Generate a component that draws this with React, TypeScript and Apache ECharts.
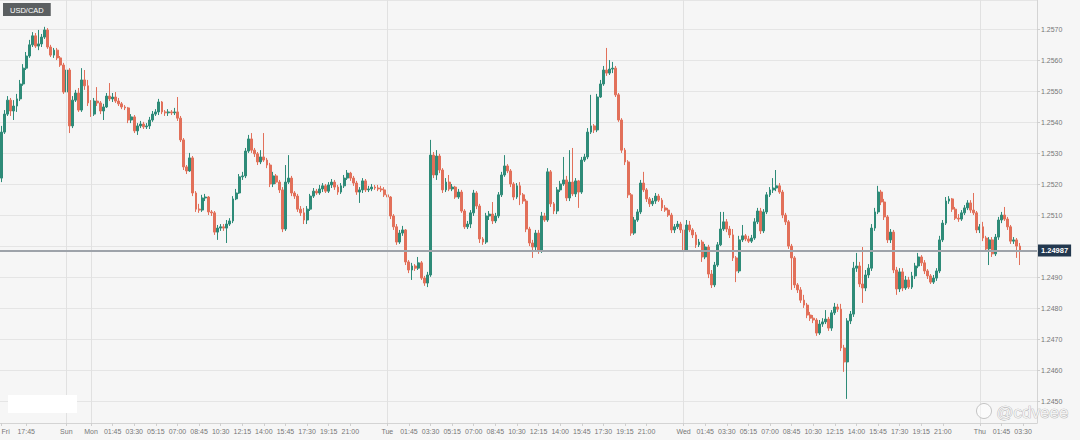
import React, { useEffect, useRef } from "react";
import * as echarts from "echarts";

// ---------- data (USD/CAD, 15-minute candles) ----------
const firstOpen = 1.2522;

const friClose = [1.25368, 1.25426, 1.25471, 1.25436, 1.25452, 1.25475, 1.25523, 1.25574, 1.25613, 1.25649, 1.25678, 1.25645, 1.25652, 1.25674, 1.25697, 1.25642, 1.25616, 1.25632, 1.25607, 1.25584, 1.25497];
const friHigh = [1.25388, 1.25439, 1.25484, 1.25478, 1.25471, 1.25491, 1.25536, 1.25587, 1.25626, 1.25665, 1.2569, 1.25687, 1.25697, 1.25684, 1.25707, 1.25703, 1.25649, 1.25639, 1.25639, 1.25613, 1.25591];
const friLow = [1.25207, 1.25362, 1.2542, 1.2542, 1.25407, 1.25433, 1.25468, 1.25517, 1.25568, 1.25607, 1.25642, 1.25639, 1.25632, 1.25642, 1.25668, 1.25636, 1.2561, 1.25607, 1.256, 1.25578, 1.25491];

const sunClose = [1.25568, 1.25388, 1.25471, 1.25494, 1.25439, 1.25536, 1.25517, 1.25462];
const sunHigh = [1.25581, 1.25574, 1.25484, 1.25504, 1.2551, 1.25574, 1.25568, 1.25536];
const sunLow = [1.25491, 1.25365, 1.25381, 1.25465, 1.25433, 1.25433, 1.25504, 1.25452];

const monClose = [1.25426, 1.25468, 1.25462, 1.25436, 1.25449, 1.25484, 1.25475, 1.25481, 1.25468, 1.25459, 1.25449, 1.25446, 1.25407, 1.25417, 1.25372, 1.25388, 1.25394, 1.25385, 1.25388, 1.25407, 1.25426, 1.25433, 1.25465, 1.25433, 1.2543, 1.25433, 1.2543, 1.25433, 1.25413, 1.25343, 1.25256, 1.25243, 1.25285, 1.25172, 1.2512, 1.25117, 1.25156, 1.25159, 1.25111, 1.25108, 1.25046, 1.25059, 1.25063, 1.25059, 1.25072, 1.25082, 1.25153, 1.25172, 1.25224, 1.25227, 1.25307, 1.25346, 1.2531, 1.25298, 1.25272, 1.25288, 1.25278, 1.25262, 1.25201, 1.25227, 1.25207, 1.25182, 1.25056, 1.25207, 1.2522, 1.25172, 1.25162, 1.2512, 1.25108, 1.25085, 1.2512, 1.25162, 1.25178, 1.25172, 1.25185, 1.25195, 1.25178, 1.25198, 1.25207, 1.25191, 1.25175, 1.25195, 1.2522, 1.25236, 1.2522, 1.25204, 1.25175, 1.25182, 1.25211, 1.25182, 1.25185, 1.25191, 1.25188, 1.25185, 1.25182, 1.25166];
const monHigh = [1.25471, 1.25478, 1.25513, 1.25468, 1.25459, 1.25494, 1.25526, 1.25494, 1.25497, 1.25478, 1.25465, 1.25455, 1.25449, 1.25426, 1.25423, 1.25397, 1.25404, 1.25401, 1.25397, 1.25417, 1.25436, 1.25442, 1.25475, 1.25468, 1.25439, 1.25442, 1.25439, 1.25446, 1.25481, 1.2542, 1.25349, 1.25262, 1.25301, 1.25291, 1.25178, 1.25137, 1.25166, 1.25169, 1.25162, 1.25117, 1.25114, 1.25069, 1.25072, 1.25072, 1.25085, 1.25091, 1.25162, 1.25185, 1.25233, 1.2524, 1.25317, 1.25359, 1.25365, 1.25317, 1.25304, 1.2531, 1.25365, 1.25285, 1.25269, 1.2524, 1.25233, 1.25214, 1.25191, 1.25262, 1.25294, 1.25227, 1.25178, 1.25169, 1.2513, 1.25124, 1.2513, 1.25169, 1.25188, 1.25185, 1.25198, 1.25204, 1.25201, 1.25207, 1.25217, 1.25214, 1.25198, 1.25204, 1.2523, 1.25246, 1.2524, 1.25227, 1.25211, 1.25191, 1.2522, 1.25217, 1.25195, 1.25201, 1.25198, 1.25198, 1.25195, 1.25191];
const monLow = [1.25417, 1.2542, 1.25452, 1.25426, 1.25407, 1.25446, 1.25468, 1.25465, 1.25462, 1.25452, 1.25442, 1.25439, 1.25397, 1.25397, 1.25365, 1.25359, 1.25381, 1.25378, 1.25378, 1.25378, 1.25401, 1.2542, 1.25423, 1.25426, 1.2542, 1.2542, 1.25423, 1.25423, 1.25404, 1.25336, 1.25246, 1.25233, 1.2524, 1.25162, 1.25111, 1.25108, 1.25111, 1.25146, 1.25101, 1.25098, 1.25037, 1.25021, 1.2505, 1.2505, 1.25011, 1.25066, 1.25075, 1.25149, 1.25169, 1.25214, 1.2522, 1.25301, 1.25301, 1.25288, 1.25262, 1.25265, 1.25272, 1.25252, 1.25191, 1.25191, 1.25201, 1.25172, 1.25046, 1.2505, 1.25201, 1.25162, 1.25153, 1.25111, 1.25098, 1.25072, 1.25072, 1.25114, 1.25156, 1.25166, 1.25166, 1.25175, 1.25172, 1.25172, 1.25188, 1.25182, 1.25166, 1.25169, 1.25188, 1.25214, 1.25211, 1.25195, 1.25166, 1.2514, 1.25172, 1.25175, 1.25175, 1.25178, 1.25182, 1.25178, 1.25175, 1.25159];

const tueClose = [1.25159, 1.25098, 1.25063, 1.25014, 1.25043, 1.25053, 1.2495, 1.24924, 1.24937, 1.2493, 1.24947, 1.24898, 1.24882, 1.24908, 1.25294, 1.2523, 1.25291, 1.25246, 1.25182, 1.25207, 1.25185, 1.25191, 1.25159, 1.25175, 1.25114, 1.25063, 1.25072, 1.25108, 1.25172, 1.2513, 1.25024, 1.25014, 1.25098, 1.25104, 1.25082, 1.25098, 1.25166, 1.2523, 1.25259, 1.25243, 1.25201, 1.25159, 1.25195, 1.25166, 1.25146, 1.25056, 1.25011, 1.24998, 1.25043, 1.24985, 1.25098, 1.25085, 1.2524, 1.25137, 1.25114, 1.25182, 1.25201, 1.25214, 1.25156, 1.25207, 1.25169, 1.25211, 1.25175, 1.25278, 1.25288, 1.25368, 1.25388, 1.25375, 1.25481, 1.25523, 1.25568, 1.25558, 1.25571, 1.25574, 1.25488, 1.25407, 1.2531, 1.25272, 1.25166, 1.25043, 1.25085, 1.25111, 1.25204, 1.25182, 1.25153, 1.25137, 1.25146, 1.25162, 1.25149, 1.25124, 1.25117, 1.25101, 1.25053, 1.25063, 1.25072, 1.25053];
const tueHigh = [1.25172, 1.25162, 1.25104, 1.25072, 1.25053, 1.25066, 1.25056, 1.24956, 1.24947, 1.24943, 1.24966, 1.24953, 1.24905, 1.24918, 1.25343, 1.25304, 1.2531, 1.25298, 1.25252, 1.2522, 1.2523, 1.25201, 1.25195, 1.25185, 1.25182, 1.2512, 1.25082, 1.25117, 1.25182, 1.25178, 1.25137, 1.2503, 1.25108, 1.25114, 1.25143, 1.25108, 1.25175, 1.2524, 1.25294, 1.25265, 1.25249, 1.25207, 1.25204, 1.25207, 1.25172, 1.25153, 1.25063, 1.25021, 1.25053, 1.25053, 1.25111, 1.25108, 1.25252, 1.25246, 1.25143, 1.25191, 1.25211, 1.25288, 1.25227, 1.2531, 1.25317, 1.2522, 1.25214, 1.25288, 1.25298, 1.25381, 1.25488, 1.25394, 1.25491, 1.25536, 1.25581, 1.25639, 1.256, 1.25594, 1.25581, 1.25494, 1.25413, 1.25317, 1.25278, 1.25172, 1.25095, 1.2512, 1.25214, 1.2524, 1.25188, 1.25159, 1.25156, 1.25172, 1.25169, 1.25156, 1.25133, 1.25124, 1.25108, 1.25072, 1.25082, 1.25079];
const tueLow = [1.25149, 1.25088, 1.25053, 1.25005, 1.25008, 1.25034, 1.2494, 1.24914, 1.24892, 1.24921, 1.24924, 1.24892, 1.24873, 1.24869, 1.24902, 1.2522, 1.25214, 1.25236, 1.25172, 1.25175, 1.25178, 1.25178, 1.25153, 1.25153, 1.25108, 1.25056, 1.25056, 1.25059, 1.25098, 1.2512, 1.25011, 1.25005, 1.25008, 1.25085, 1.25072, 1.25075, 1.25091, 1.25159, 1.25224, 1.25236, 1.25191, 1.25149, 1.25153, 1.25133, 1.25137, 1.25046, 1.25001, 1.24963, 1.24988, 1.24976, 1.24979, 1.25079, 1.25079, 1.25127, 1.25104, 1.25104, 1.25175, 1.25195, 1.25146, 1.25146, 1.25162, 1.25159, 1.25124, 1.25169, 1.25272, 1.25281, 1.25362, 1.25365, 1.25368, 1.25478, 1.25517, 1.25549, 1.25552, 1.25558, 1.25481, 1.25401, 1.25301, 1.25262, 1.25156, 1.25034, 1.25037, 1.25079, 1.25104, 1.25175, 1.25143, 1.25127, 1.2513, 1.25137, 1.25143, 1.25114, 1.25111, 1.25095, 1.25043, 1.25043, 1.25056, 1.25043];

const wedClose = [1.24988, 1.25069, 1.25053, 1.25037, 1.25005, 1.25014, 1.24966, 1.24998, 1.24911, 1.24876, 1.2494, 1.25005, 1.25056, 1.25079, 1.25056, 1.25037, 1.24963, 1.24921, 1.25021, 1.25034, 1.25024, 1.25017, 1.25027, 1.25079, 1.25114, 1.2505, 1.25111, 1.25166, 1.25182, 1.25188, 1.25195, 1.25175, 1.25101, 1.25079, 1.25001, 1.24963, 1.24876, 1.2486, 1.24827, 1.24811, 1.24779, 1.24769, 1.24763, 1.24721, 1.2475, 1.24757, 1.24766, 1.24737, 1.24786, 1.24805, 1.24798, 1.24673, 1.24628, 1.2476, 1.24782, 1.2493, 1.24937, 1.24879, 1.24866, 1.24908, 1.2493, 1.25059, 1.25111, 1.25175, 1.25143, 1.25095, 1.25021, 1.25046, 1.24924, 1.24863, 1.24918, 1.24866, 1.24892, 1.24869, 1.24905, 1.24937, 1.24966, 1.24947, 1.24921, 1.24905, 1.24885, 1.24898, 1.24921, 1.25021, 1.25075, 1.25146, 1.25153, 1.2512, 1.25091, 1.25088, 1.25108, 1.25124, 1.2514, 1.25117, 1.25108, 1.25053];
const wedHigh = [1.25075, 1.25085, 1.25082, 1.25059, 1.25046, 1.25024, 1.25021, 1.25008, 1.25005, 1.24924, 1.2495, 1.25014, 1.25111, 1.25111, 1.25088, 1.25066, 1.25056, 1.24969, 1.25034, 1.25069, 1.2504, 1.25034, 1.25037, 1.25091, 1.25124, 1.25124, 1.2512, 1.25175, 1.25191, 1.2522, 1.25246, 1.25204, 1.25182, 1.25108, 1.25085, 1.25008, 1.24969, 1.24882, 1.24869, 1.24844, 1.24818, 1.24789, 1.24779, 1.24769, 1.24763, 1.24769, 1.24795, 1.24773, 1.24795, 1.24818, 1.24815, 1.24815, 1.24683, 1.24769, 1.24792, 1.2495, 1.24979, 1.2495, 1.24998, 1.24924, 1.24943, 1.25072, 1.25124, 1.25195, 1.25182, 1.25153, 1.25101, 1.25056, 1.25053, 1.24934, 1.2493, 1.2493, 1.24905, 1.24902, 1.24918, 1.24947, 1.24979, 1.24972, 1.24956, 1.24927, 1.24911, 1.24908, 1.2493, 1.25034, 1.25085, 1.25159, 1.25162, 1.25156, 1.25127, 1.25104, 1.25117, 1.25133, 1.25149, 1.25149, 1.25172, 1.25114];
const wedLow = [1.24966, 1.24982, 1.25046, 1.25027, 1.24995, 1.24998, 1.2495, 1.24959, 1.24898, 1.24866, 1.24869, 1.24934, 1.25001, 1.2505, 1.25046, 1.25027, 1.24953, 1.24885, 1.24914, 1.25014, 1.25017, 1.25011, 1.25011, 1.25021, 1.25072, 1.2504, 1.25043, 1.25104, 1.25159, 1.25172, 1.25178, 1.25169, 1.25091, 1.25069, 1.24992, 1.2486, 1.24866, 1.2485, 1.24818, 1.24802, 1.24769, 1.2476, 1.24753, 1.24712, 1.24715, 1.24741, 1.2475, 1.24728, 1.24728, 1.24779, 1.24789, 1.24663, 1.24596, 1.24509, 1.2475, 1.24773, 1.24918, 1.24869, 1.24818, 1.24856, 1.24898, 1.24921, 1.2505, 1.25104, 1.25133, 1.25085, 1.25011, 1.25011, 1.24914, 1.24844, 1.24853, 1.24856, 1.2486, 1.24863, 1.24863, 1.24895, 1.2493, 1.24937, 1.24911, 1.24895, 1.24879, 1.24879, 1.24889, 1.24914, 1.25014, 1.25069, 1.25137, 1.25111, 1.25085, 1.25079, 1.25082, 1.25101, 1.25117, 1.25108, 1.25101, 1.25043];

const thuClose = [1.25063, 1.25027, 1.24992, 1.25021, 1.24976, 1.2503, 1.25085, 1.25101, 1.25088, 1.25063, 1.25017, 1.25021, 1.25001, 1.24987];
const thuHigh = [1.25072, 1.25079, 1.25034, 1.2503, 1.2503, 1.2504, 1.25095, 1.25111, 1.25127, 1.25095, 1.25069, 1.2503, 1.25027, 1.25011];
const thuLow = [1.25043, 1.25017, 1.24982, 1.2494, 1.24966, 1.24969, 1.25021, 1.25075, 1.25082, 1.25053, 1.25008, 1.25008, 1.24963, 1.2494];

const lastPrice = 1.24987;

// sessions: day, first bar time, number of 15-minute slots on the axis
const sessions: [string, string, number][] = [
  ["Fri", "15:45", 21],
  ["Sun", "22:00", 8],
  ["Mon", "00:00", 96],
  ["Tue", "00:00", 96],
  ["Wed", "00:00", 96],
  ["Thu", "00:00", 19],
];

const intradayLabels = ["01:45", "03:30", "05:15", "07:00", "08:45", "10:30", "12:15", "14:00", "15:45", "17:30", "19:15", "21:00"];
const dayStartSlots = ["Fri 15:45", "Sun 22:00", "Mon 00:00", "Tue 00:00", "Wed 00:00", "Thu 00:00"];
const fullDays = ["Mon", "Tue", "Wed"];
const extraTimeSlots = ["Fri 17:45", "Thu 01:45", "Thu 03:30"];
const dayLineSlots = ["Sun 22:00", "Mon 00:00", "Tue 00:00", "Wed 00:00", "Thu 00:00"];

const UP = "#2e8b78";
const DOWN = "#e2705a";
const FONT = 'Arial, "Liberation Sans", sans-serif';

function buildCategories(): string[] {
  const out: string[] = [];
  for (const [day, start, count] of sessions) {
    const [h, m] = start.split(":").map(Number);
    let t = h * 60 + m;
    for (let k = 0; k < count; k++) {
      const hh = String(Math.floor(t / 60)).padStart(2, "0");
      const mm = String(t % 60).padStart(2, "0");
      out.push(`${day} ${hh}:${mm}`);
      t += 15;
    }
  }
  return out;
}

function buildLabelMap(): Map<string, string> {
  const map = new Map<string, string>();
  for (const s of dayStartSlots) map.set(s, s.split(" ")[0]);
  for (const d of fullDays) for (const t of intradayLabels) map.set(`${d} ${t}`, t);
  for (const s of extraTimeSlots) map.set(s, s.split(" ")[1]);
  return map;
}

export default function App() {
  const ref = useRef<HTMLDivElement>(null);

  useEffect(() => {
    if (!ref.current) return;
    const chart = echarts.init(ref.current, undefined, { renderer: "svg" });

    const categories = buildCategories();
    const labelMap = buildLabelMap();
    const closes = [...friClose, ...sunClose, ...monClose, ...tueClose, ...wedClose, ...thuClose];
    const highs = [...friHigh, ...sunHigh, ...monHigh, ...tueHigh, ...wedHigh, ...thuHigh];
    const lows = [...friLow, ...sunLow, ...monLow, ...tueLow, ...wedLow, ...thuLow];
    const ohlc = closes.map((c, i) => {
      const o = i === 0 ? firstOpen : closes[i - 1];
      const h = Math.max(highs[i], o, c);
      const l = Math.min(lows[i], o, c);
      return [o, c, l, h];
    });

    const showLabel = (_i: number, v: string) => labelMap.has(v);

    chart.setOption({
      animation: false,
      backgroundColor: "#f6f6f6",
      textStyle: { fontFamily: FONT },
      title: {
        text: "USD/CAD",
        left: 3,
        top: 3,
        padding: [3, 7, 2, 7],
        backgroundColor: "#5b5f61",
        textStyle: { color: "#ffffff", fontSize: 7.5, fontWeight: "normal", fontFamily: FONT },
      },
      grid: { left: 0, right: 43, top: 0, bottom: 17, show: false, outerBoundsMode: "none", containLabel: false },
      xAxis: {
        type: "category",
        data: categories,
        boundaryGap: true,
        axisLine: { show: true, lineStyle: { color: "#d4d4d4" } },
        axisTick: { show: true, interval: showLabel, alignWithLabel: true, length: 3, lineStyle: { color: "#cfcfcf" } },
        axisLabel: {
          interval: showLabel,
          formatter: (v: string) => labelMap.get(v) ?? "",
          fontSize: 7,
          color: "#777777",
          margin: 5,
          alignMinLabel: "left",
          fontFamily: FONT,
        },
        splitLine: { show: false },
      },
      yAxis: {
        type: "value",
        position: "right",
        min: 1.244314,
        max: 1.257934,
        splitNumber: 14,
        minInterval: 0.001,
        maxInterval: 0.001,
        axisLine: { show: true, lineStyle: { color: "#d4d4d4" } },
        axisTick: { show: true, length: 3, lineStyle: { color: "#cfcfcf" } },
        axisLabel: {
          fontSize: 7,
          color: "#777777",
          margin: 4,
          showMinLabel: false,
          showMaxLabel: false,
          // the level under the last-price tag is covered by the tag in the reference
          formatter: (v: number) => (Math.abs(v - lastPrice) < 0.0003 ? "" : v.toFixed(4)),
          fontFamily: FONT,
        },
        splitLine: { show: true, lineStyle: { color: "#e5e5e5", width: 1 } },
      },
      series: [
        {
          type: "line",
          data: [],
          z: 1,
          silent: true,
          markLine: {
            silent: true,
            symbol: ["none", "none"],
            label: { show: false },
            lineStyle: { color: "#e1e1e1", width: 1, type: "solid" },
            data: dayLineSlots.map((s) => ({ xAxis: s })),
          },
        },
        {
          type: "candlestick",
          data: ohlc,
          barWidth: 2.4,
          z: 3,
          itemStyle: { color: UP, color0: DOWN, borderColor: UP, borderColor0: DOWN, borderWidth: 1 },
          markLine: {
            silent: true,
            precision: 5,
            symbol: ["none", "none"],
            lineStyle: { color: "#9ea3aa", width: 2, type: "solid" },
            label: {
              show: true,
              position: "end",
              distance: 1,
              formatter: (p: any) => Number(p.value).toFixed(5),
              backgroundColor: "#23384f",
              color: "#ffffff",
              fontSize: 7.5,
              fontWeight: "bold",
              padding: [2, 3, 2, 3],
              fontFamily: FONT,
            },
            data: [{ yAxis: lastPrice }],
          },
        },
      ],
      graphic: [
        { type: "rect", left: 8, top: 395, shape: { width: 69, height: 18 }, style: { fill: "#ffffff" }, z: 10 },
        {
          type: "circle",
          left: 976,
          top: 403,
          shape: { r: 7.5 },
          style: { fill: "rgba(255,255,255,0.5)", stroke: "#c4c4c4", lineWidth: 1 },
          z: 10,
        },
        {
          type: "text",
          left: 996,
          top: 404,
          style: {
            text: "@cdveee",
            fontSize: 17,
            fontFamily: FONT,
            fill: "#f2f2f2",
            stroke: "#a9a9a9",
            lineWidth: 0.7,
          },
          z: 10,
        },
      ],
    });

    return () => chart.dispose();
  }, []);

  return <div ref={ref} style={{ position: "absolute", left: 0, top: 0, width: 1080, height: 440 }} />;
}
